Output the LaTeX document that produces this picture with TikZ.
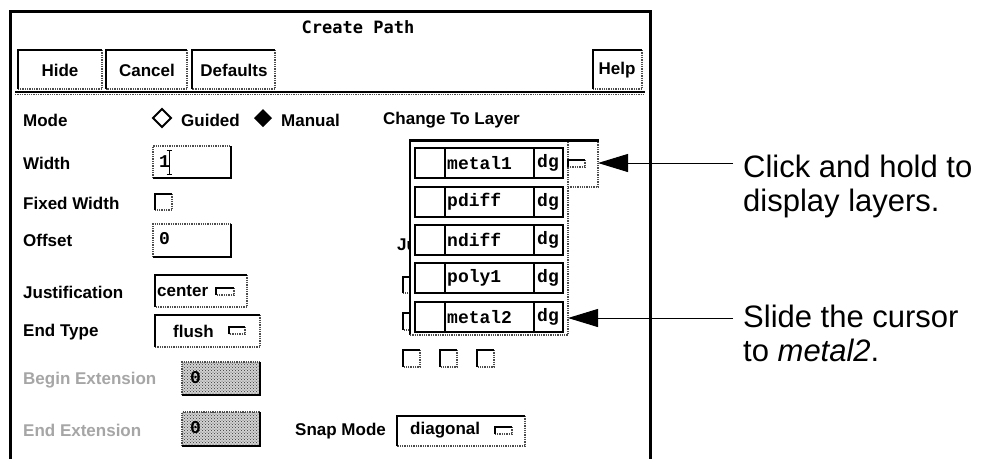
\documentclass[tikz,border=0pt]{standalone}
\usepackage{fontspec}
\setmainfont{Liberation Sans}
\newfontfamily\titlefont{DejaVu Sans Mono}
\newfontfamily\layerfont{Liberation Mono}
\usetikzlibrary{arrows.meta,patterns}
\tikzset{
  lbl/.style={anchor=west, inner sep=0pt, font=\fontsize{17}{20}\selectfont\bfseries},
  glbl/.style={lbl, text=gray!70},
  btxt/.style={inner sep=0pt, font=\fontsize{17}{20}\selectfont\bfseries},
  lay/.style={anchor=west, inner sep=0pt, font=\fontsize{18}{20}\selectfont\layerfont\bfseries},
  ann/.style={anchor=base west, inner sep=0pt, font=\fontsize{31}{34}\selectfont},
  dotl/.style={densely dotted, line width=1.3pt, gray!60!black},
  thk/.style={line width=2.6pt},
  thin/.style={line width=1.2pt},
  arr/.style={-{Triangle[length=30pt,width=18pt]}, line width=1pt},
  stip/.style={fill=gray!35, postaction={pattern=crosshatch dots, pattern color=black!80}},
}
% raised widget: black top/left, dotted bottom/right
\newcommand\myup[4]{%
  \draw[dotl] (#3,#2) -- (#3,#4) -- (#1,#4);
  \draw[thk] (#1,#4) -- (#1,#2) -- (#3,#2);}
% sunken widget: dotted top/left, black bottom/right
\newcommand\mydown[4]{%
  \draw[dotl] (#1,#4) -- (#1,#2) -- (#3,#2);
  \draw[thk] (#3,#2) -- (#3,#4) -- (#1,#4);}
\begin{document}
\begin{tikzpicture}[x=1pt,y=-1pt]
\useasboundingbox (0,0) rectangle (982,459);
\fill[white] (0,0) rectangle (982,459);

% dialog frame
\draw[line width=3pt] (10,459) -- (10,11) -- (650,11) -- (650,459);
\node[inner sep=0pt, font={\fontsize{17}{20}\selectfont\titlefont\bfseries}] (title) at (358,27) {Create Path};

% buttons
\myup{18}{50}{102}{89}   \node[btxt] (hide) at (60,70) {Hide};
\myup{106}{50}{187}{89}  \node[btxt] (cancel) at (147,70) {Cancel};
\myup{192}{50}{275}{89}  \node[btxt] (defaults) at (234,70) {Defaults};
\myup{593}{50}{642}{89}  \node[btxt] (help) at (617,70) {Help};
\draw[thin] (15,92) -- (645,92);
\draw[dotl] (15,94.5) -- (645,94.5);

% Mode
\node[lbl] (mode) at (23,120) {Mode};
\draw[line width=2pt] (162,109) -- (171,118) -- (162,127) -- (153,118) -- cycle;
\node[lbl] (guided) at (181,120) {Guided};
\fill (263,109) -- (272,118) -- (263,127) -- (254,118) -- cycle;
\node[lbl] (manual) at (281,120) {Manual};
\node[lbl] (ctl) at (383,120) {Change To Layer};

% Width
\node[lbl] (width) at (23,163) {Width};
\mydown{153}{146}{231}{178}
\node[lay] (wval) at (159,162) {1};
\draw[line width=1pt] (169,150) -- (169,174) (166.5,150) -- (171.5,150) (166.5,174) -- (171.5,174);

% Fixed Width
\node[lbl] (fixed) at (23,203) {Fixed Width};
\myup{155}{194}{172}{210}

% Offset
\node[lbl] (offset) at (23,240) {Offset};
\mydown{153}{224}{231}{257}
\node[lay] (oval) at (159,239) {0};

% Justification
\node[lbl] (just) at (23,292) {Justification};
\myup{155}{275}{247}{307}
\node[lbl] (center) at (157,291) {center};
\myup{216}{288}{234}{295}

% End Type
\node[lbl] (endtype) at (23,332) {End Type};
\myup{155}{315}{260}{347}
\node[lbl] (flush) at (173,331) {flush};
\myup{229}{327}{245}{334}

% Begin / End Extension (greyed)
\node[glbl] (bext) at (23,380) {Begin Extension};
\path[stip] (182,362) rectangle (260,395);
\mydown{182}{362}{260}{395}
\node[lay] (bval) at (190,378) {0};
\node[glbl] (eext) at (23,430) {End Extension};
\path[stip] (182,412) rectangle (260,446);
\mydown{182}{412}{260}{446}
\node[lay] (eval) at (190,428) {0};

% Snap Mode
\node[lbl] (snap) at (295,431) {Snap Mode};
\myup{397}{416}{525}{446}
\node[lbl] (diag) at (410,430) {diagonal};
\myup{495}{427}{512}{434}

% items partly hidden by the popup
\begin{scope}
  \clip (380,225) rectangle (409.4,265);
  \node[lbl] (ju) at (397,245) {Ju};
\end{scope}
\myup{403}{277}{420}{293}
\myup{403}{313}{420}{330}
\myup{403}{350}{420}{367}
\myup{440}{350}{457}{367}
\myup{477}{350}{494}{367}

% layer popup
\fill[white] (410,140) rectangle (568,335);
\fill[white] (568,140) rectangle (598,187);
\draw[thin] (410,140) -- (410,335);
\draw[dotl] (410,335) -- (568,335) -- (568,140);
\draw[dotl] (568,187) -- (598,187) -- (598,140);
\draw[line width=3pt] (409.4,140) -- (598.6,140);
\myup{568}{160}{585}{167}
\foreach \c/\n/\t in {163/r1/metal1, 202/r2/pdiff, 240/r3/ndiff, 278/r4/poly1, 317/r5/metal2} {
  \draw[thin] (415,\c-15) rectangle (563,\c+15);
  \draw[thin] (445,\c-15) -- (445,\c+15) (534,\c-15) -- (534,\c+15);
  \node[lay] (\n) at (447,\c) {\t};
  \node[lay] (\n dg) at (537,\c) {dg};
}

% annotations
\node[ann] (t1a) at (743,177) {Click and hold to};
\node[ann] (t1b) at (743,211) {display layers.};
\node[ann] (t2a) at (743,327) {Slide the cursor};
\node[ann] (t2b) at (743,361) {to \textit{metal2}.};
\coordinate (s1) at (733,163);
\coordinate (tip1) at (598,163);
\coordinate (s2) at (733,318);
\coordinate (tip2) at (568,318);
\draw[arr] (s1) -- (tip1);
\draw[arr] (s2) -- (tip2);
\end{tikzpicture}
\end{document}
